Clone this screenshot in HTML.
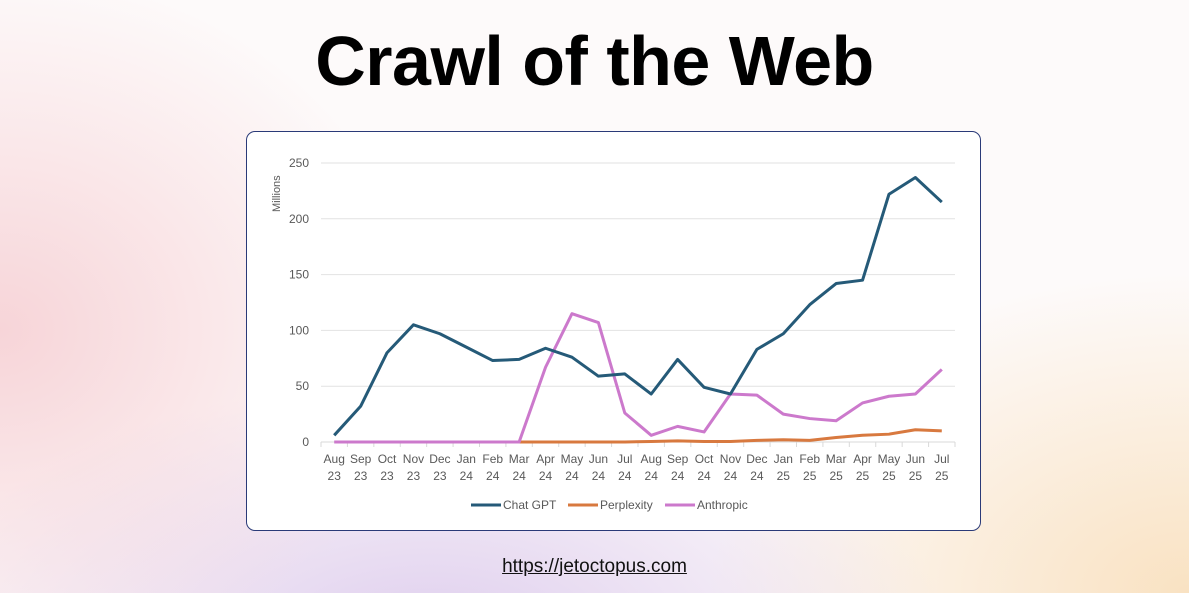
<!DOCTYPE html>
<html><head><meta charset="utf-8"><style>
html,body{margin:0;padding:0;width:1189px;height:593px;overflow:hidden;font-family:"Liberation Sans",sans-serif}
body{background:
radial-gradient(ellipse 420px 360px at 0px 330px,rgba(245,200,205,.75),rgba(245,200,205,0)),
radial-gradient(ellipse 520px 260px at 430px 640px,rgba(215,195,235,.8),rgba(215,195,235,0)),
radial-gradient(ellipse 480px 320px at 1189px 593px,rgba(248,220,180,.8),rgba(248,220,180,0)),
#fdfafa;position:relative}
h1{position:absolute;top:21px;left:0;width:1189px;text-align:center;margin:0;font-size:70px;font-weight:bold;color:#000;letter-spacing:-0.5px}
.box{position:absolute;left:246px;top:131px;width:733px;height:398px;border:1.5px solid #2a3a78;border-radius:9px;background:#fff}
.url{position:absolute;top:556px;left:0;width:1189px;text-align:center;font-size:19px;color:#111;text-decoration:underline}
</style></head><body>
<h1>Crawl of the Web</h1>
<div class="box"></div>
<svg id="s" width="1189" height="593" style="position:absolute;left:0;top:0" font-family="Liberation Sans, sans-serif"></svg>
<div class="url">https://jetoctopus.com</div>
<script>
const s=document.getElementById('s');
const L=321,R=955,Y0=442,k=1.116,w=(R-L)/24;
const cx=i=>L+w*(i+0.5),cy=v=>Y0-v*k;
let h='';
for(let v=0;v<=250;v+=50){const y=cy(v);
 if(v>0)h+=`<line x1="${L}" x2="${R}" y1="${y}" y2="${y}" stroke="#e2e2e2" stroke-width="1"/>`;
 h+=`<text x="309" y="${y+4}" text-anchor="end" font-size="12" fill="#595959">${v}</text>`;}
h+=`<line x1="${L}" x2="${R}" y1="${Y0}" y2="${Y0}" stroke="#d9d9d9" stroke-width="1"/>`;
const m=['Aug','Sep','Oct','Nov','Dec','Jan','Feb','Mar','Apr','May','Jun','Jul','Aug','Sep','Oct','Nov','Dec','Jan','Feb','Mar','Apr','May','Jun','Jul'];
for(let i=0;i<=24;i++){h+=`<line x1="${L+w*i}" x2="${L+w*i}" y1="${Y0}" y2="${Y0+5}" stroke="#d9d9d9"/>`;}
for(let i=0;i<24;i++){const yr=i<5?'23':i<17?'24':'25';
 h+=`<text x="${cx(i)}" y="463" text-anchor="middle" font-size="12" fill="#595959">${m[i]}</text><text x="${cx(i)}" y="480" text-anchor="middle" font-size="12" fill="#595959">${yr}</text>`;}
h+=`<text transform="translate(280,212) rotate(-90)" font-size="11" fill="#595959">Millions</text>`;
const g=[6,32,80,105,97,85,73,74,84,76,59,61,43,74,49,43,83,97,123,142,145,222,237,215];
const a=[0,0,0,0,0,0,0,0,67,115,107,26,6,14,9,43,42,25,21,19,35,41,43,65];
const p=[null,null,null,null,null,null,null,0,0,0,0,0,0.5,1,0.5,0.5,1.5,2,1.5,4,6,7,11,10];
const line=(d,c)=>{let pts=d.map((v,i)=>v==null?null:cx(i)+','+cy(v)).filter(x=>x).join(' ');
 return `<polyline points="${pts}" fill="none" stroke="${c}" stroke-width="3" stroke-linejoin="round"/>`;};
h+=line(p,'#d8793f')+line(a,'#cc79cc')+line(g,'#255a78');
const lg=[[471,'#255a78','Chat GPT'],[568,'#d8793f','Perplexity'],[665,'#cc79cc','Anthropic']];
for(const [x,c,t] of lg){h+=`<line x1="${x}" x2="${x+30}" y1="505" y2="505" stroke="${c}" stroke-width="3"/><text x="${x+32}" y="509" font-size="12" fill="#595959">${t}</text>`;}
s.innerHTML=h;
</script>
</body></html>
